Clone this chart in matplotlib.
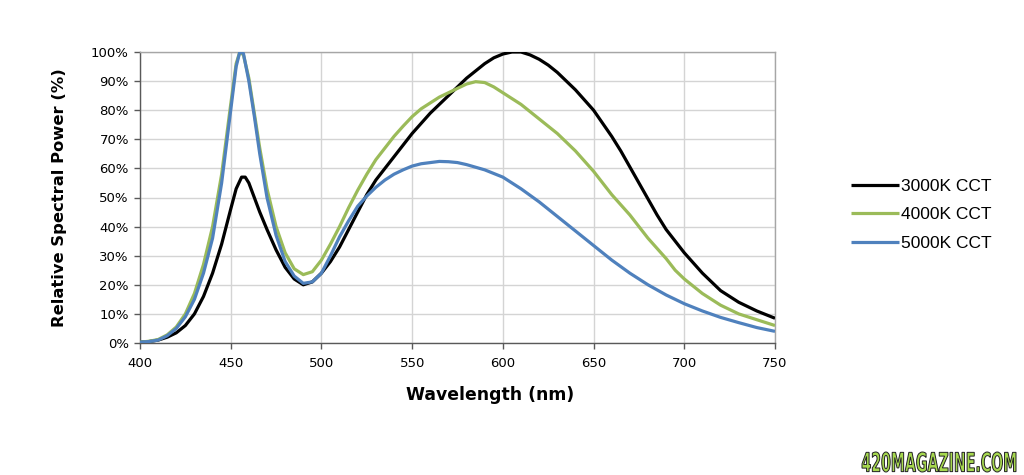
import matplotlib
matplotlib.use("Agg")
import matplotlib.pyplot as plt
from matplotlib.ticker import FuncFormatter
from matplotlib.textpath import TextPath
from matplotlib.patches import PathPatch
from matplotlib.font_manager import FontProperties
from matplotlib.transforms import Affine2D

wl_3000 = [400, 405, 410, 415, 420, 425, 430, 435, 440, 445, 450, 453, 456, 458, 460, 463, 466, 470, 475,
           480, 485, 490, 495, 500, 505, 510, 515, 520, 525, 530, 535, 540, 545, 550, 555, 560, 565, 570,
           575, 580, 585, 590, 595, 600, 605, 610, 615, 620, 625, 630, 635, 640, 645, 650, 655, 660, 665,
           670, 675, 680, 685, 690, 695, 700, 710, 720, 730, 740, 750]
cct_3000 = [0.3, 0.5, 1, 2, 3.5, 6, 10, 16, 24, 34, 46, 53, 57, 57, 55, 50, 45, 39, 32,
            26, 22, 20, 21, 24, 28, 33, 39, 45, 51, 56, 60, 64, 68, 72, 75.5, 79, 82, 85,
            88, 91, 93.5, 96, 98, 99.3, 100, 100, 99, 97.5, 95.5, 93, 90, 87, 83.5, 80, 75.5, 71, 66,
            60.5, 55, 49.5, 44, 39, 35, 31, 24, 18, 14, 11, 8.5]

wl_4000 = [400, 405, 410, 415, 420, 425, 430, 435, 440, 445, 450, 453, 455, 457, 460, 463, 466, 470, 475,
           480, 485, 490, 495, 500, 505, 510, 515, 520, 525, 530, 535, 540, 545, 550, 555, 560, 565, 570,
           575, 580, 585, 590, 595, 600, 605, 610, 615, 620, 625, 630, 635, 640, 645, 650, 655, 660, 665,
           670, 675, 680, 685, 690, 695, 700, 710, 720, 730, 740, 750]
cct_4000 = [0.3, 0.6, 1.2, 2.8, 5.5, 10, 17, 27, 40, 58, 82, 96, 100, 99, 91, 79, 67, 53, 40,
            31, 25.5, 23.5, 24.5, 28.5, 34, 40, 46.5, 52.5, 58, 63, 67, 71, 74.5, 77.8, 80.5, 82.5, 84.5, 86,
            87.5, 89, 89.8, 89.5, 88, 86, 84, 82, 79.5, 77, 74.5, 72, 69, 66, 62.5, 59, 55, 51, 47.5,
            44, 40, 36, 32.5, 29, 25, 22, 17, 13, 10, 8, 6]

wl_5000 = [400, 405, 410, 415, 420, 425, 430, 435, 440, 445, 450, 453, 455, 457, 460, 463, 466, 470, 475,
           480, 485, 490, 495, 500, 505, 510, 515, 520, 525, 530, 535, 540, 545, 550, 555, 560, 565, 570,
           575, 580, 590, 600, 610, 620, 630, 640, 650, 660, 670, 680, 690, 700, 710, 720, 730, 740, 750]
cct_5000 = [0.3, 0.5, 1, 2.5, 5, 9, 15, 24, 36, 55, 80, 95, 100, 99.5, 90, 78, 65, 50, 37,
            28, 23, 20.5, 21, 24, 30, 36.5, 42, 47, 50.5, 53.5, 56, 58, 59.5, 60.8, 61.6, 62, 62.4, 62.3,
            62, 61.3, 59.5, 57, 53, 48.5, 43.5, 38.5, 33.5, 28.5, 24, 20, 16.5, 13.5, 11, 8.8, 7, 5.3, 4]

series_labels = ["3000K CCT", "4000K CCT", "5000K CCT"]
series_colors = ["#000000", "#9BBB59", "#4F81BD"]

x_ticks = [400, 450, 500, 550, 600, 650, 700, 750]
y_ticks = [0, 10, 20, 30, 40, 50, 60, 70, 80, 90, 100]

W, H = 1024, 475
fig = plt.figure(figsize=(W/100, H/100), dpi=100)
ax = fig.add_axes([140/W, 1 - 343/H, (775-140)/W, (343-52)/H])

for wl, val, lab, col in zip([wl_3000, wl_4000, wl_5000], [cct_3000, cct_4000, cct_5000],
                             series_labels, series_colors):
    ax.plot(wl, val, color=col, lw=2.3, label=lab, solid_capstyle="butt", zorder=3)

ax.set_xlim(400, 750)
ax.set_ylim(0, 100)
ax.set_xticks(x_ticks)
ax.set_yticks(y_ticks)
ax.yaxis.set_major_formatter(FuncFormatter(lambda v, p: f"{int(v)}%"))
ax.grid(True, color="#d4d4d4", lw=1.0, zorder=0)
ax.set_axisbelow(True)

for s in ["top", "right"]:
    ax.spines[s].set_color("#a6a6a6")
    ax.spines[s].set_linewidth(1.0)
for s in ["left", "bottom"]:
    ax.spines[s].set_color("#595959")
    ax.spines[s].set_linewidth(1.0)

ax.tick_params(axis="both", direction="out", length=4, width=1, color="#595959",
               labelsize=9.5, labelcolor="#000000", pad=4)
ax.tick_params(axis="x", pad=6)

ax.set_xlabel("Wavelength (nm)", fontsize=12.4, fontweight="bold")
ax.xaxis.set_label_coords((490-140)/635, -(386-343)/291)
ax.set_ylabel("Relative Spectral Power (%)", fontsize=11.8, fontweight="bold", labelpad=17)

leg = fig.legend(loc="upper left", bbox_to_anchor=(835/W, 1 - 163/H), frameon=False,
                 prop={"family": "Liberation Sans", "size": 12.5}, handlelength=2.76,
                 handletextpad=0.15, labelspacing=0.78)

# watermark, fitted into its pixel box
fp = FontProperties(family="DejaVu Sans", weight="bold")
tp = TextPath((0, 0), "420MAGAZINE.COM", size=10, prop=fp)
ext = tp.get_extents()
x0, x1, y0, y1 = 862, 1016, 452, 472
sx = (x1 - x0) / ext.width
sy = (y1 - y0) / ext.height
tr = Affine2D().translate(-ext.x0, -ext.y0).scale(sx / W, sy / H).translate(x0 / W, 1 - y1 / H)
patch = PathPatch(tr.transform_path(tp), transform=fig.transFigure, facecolor="#A6D84E",
                  edgecolor="#222222", lw=0.7)
fig.add_artist(patch)

fig.savefig("out.png", dpi=100, facecolor="white")
